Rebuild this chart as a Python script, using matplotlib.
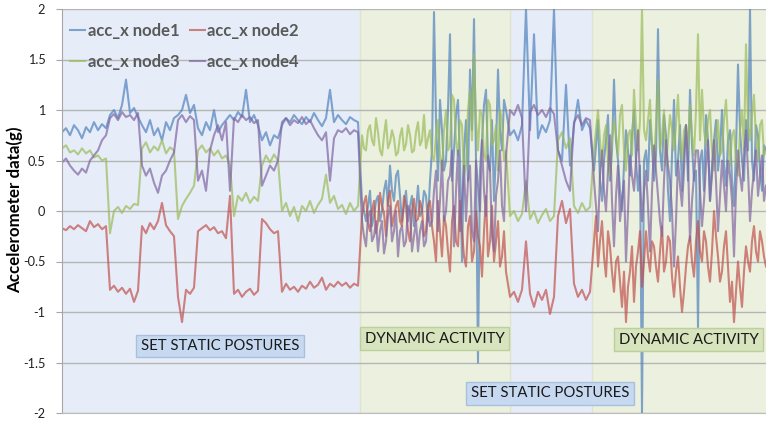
import numpy as np
import matplotlib.pyplot as plt

plt.rcParams['font.family'] = ['Lato', 'DejaVu Sans']

# Readings taken off the trace. Static phases are read every 4 px of the
# original, the dynamic phases every 2 px (they are much busier).
# phases: static postures | dynamic activity | static postures | dynamic activity
node1_static1 = [
    0.78, 0.82, 0.75, 0.85, 0.8, 0.72, 0.83, 0.78, 0.88, 0.8, 0.86, 0.82,
    0.95, 1.0, 0.92, 1.05, 1.3, 0.97, 1.02, 0.93,
    0.85, 0.78, 0.9, 0.75, 0.82, 0.7, 0.88, 0.8, 0.92,
    0.95, 1.0, 1.15, 0.97, 1.05,
    0.82, 0.75, 0.88, 0.8, 1.0, 0.78, 0.85, 0.9,
    0.95,
    0.9, 0.98, 0.93, 1.2, 0.88, 0.95, 0.85,
    0.7, 0.78, 0.65, 0.75, 0.72,
    0.85, 0.92, 0.88, 0.95, 0.9, 0.86, 0.93, 0.88, 0.97, 0.9,
    0.84, 0.92, 1.2, 0.88, 0.95, 0.9, 0.86, 0.93, 0.9, 0.88,
]
node1_dynamic1 = [
    0.1, 0.0, -0.1, 0.05, 0.2, -0.15, -0.05, 0.1, 0.15, -0.1,
    0.0, 0.2, 0.3, 0.05, 0.45, 0.2, 0.1, 0.35, 0.4, 0.15,
    -0.1, 0.05, 0.2, -0.1, 0.05, 0.15, -0.15, 0.0, 0.25, -0.05,
    0.0, 0.2, 0.15, -0.1, 0.3, 0.6, 1.97, 0.9, 0.3, 1.1,
    0.8, 0.4, 0.5, 1.0, 1.75, 0.3, 0.6, 0.95, 1.1, 0.5,
    -0.5, 0.6, 0.9, 0.3, 1.4, 0.8, 1.9, 0.5, -1.5, 0.4,
    0.7, 1.05, 1.2, 0.5, 0.4, 0.9, 0.1, 0.6, 1.4, 0.8,
    0.6, 1.1, 1.0,
]
node1_static2 = [
    0.75, 0.8, 0.7, 0.85, 2.0, 0.8, 1.75, 0.72, 0.85, 0.78, 0.9, 2.0,
    0.6, 0.5, 1.25, 0.45, 0.85, 1.1, 0.8, 0.9, 0.82,
]
node1_dynamic2 = [
    0.4, 0.65, 0.9, 0.3, 0.1, 0.5, 0.7, 0.95, 0.3, 0.6,
    1.3, 0.7, 0.5, 0.2, 0.0, 0.45, 0.8, 0.6, 0.35, 0.75,
    1.0, 0.5, 0.2, 0.45, -2.0, 0.5, 0.6, 0.3, 0.9, 0.65,
    0.3, 0.55, 1.8, 0.6, 0.4, 0.95, 0.75, 0.2, -0.1, 0.55,
    1.1, 0.35, 0.5, 0.85, 0.2, 0.6, 0.85, 0.3, 1.2, 0.65,
    0.3, 0.4, -1.15, 0.5, 0.6, 0.2, 0.95, 0.7, 0.1, 0.45,
    0.7, 0.9, 0.4, 0.6, 1.0, 0.45, 0.25, 0.7, 0.8, 0.3,
    0.05, 0.6, 1.45, 0.8, 0.5, 0.3, 0.9, 0.6, 2.0, 0.5,
    0.3, 0.85, 0.75, 0.4, 0.2, 0.65, 0.6,
]

node2_static1 = [
    -0.17, -0.19, -0.15, -0.18, -0.14, -0.17, -0.2, -0.1, -0.16, -0.13, -0.18, -0.15,
    -0.78, -0.74, -0.8, -0.76, -0.82, -0.77, -0.9, -0.79,
    -0.15, -0.22, -0.12, -0.18, -0.1, 0.08, -0.14, -0.2, -0.25,
    -0.85, -1.1, -0.78, -0.82, -0.76,
    -0.2, -0.17, -0.14, -0.19, -0.16, -0.22, -0.2, -0.27,
    0.15,
    -0.82, -0.78, -0.85, -0.8, -0.77, -0.83, -0.79,
    -0.08, -0.12, -0.18, -0.22, -0.2,
    -0.8, -0.72, -0.78, -0.75, -0.8, -0.74, -0.77, -0.7, -0.76, -0.73,
    -0.66, -0.78, -0.72, -0.75, -0.7, -0.74, -0.71, -0.76, -0.72, -0.74,
]
node2_dynamic1 = [
    -0.05, 0.08, 0.15, -0.12, -0.2, 0.0, 0.1, -0.22, -0.1, 0.18,
    0.05, -0.02, -0.25, 0.12, 0.2, -0.15, -0.05, 0.05, 0.1, -0.1,
    -0.15, 0.15, 0.05, -0.2, -0.3, 0.0, 0.12, -0.1, -0.08, 0.1,
    0.02, -0.25, -0.2, 0.05, 0.1, -0.15, -0.3, -0.5, 0.1, -0.2,
    -0.45, -0.05, -0.15, -0.4, -0.6, -0.1, 0.05, -0.3, -0.35, 0.1,
    -0.2, -0.45, -0.55, -0.15, -0.05, -0.5, -0.4, 0.0, -0.25, -0.35,
    -0.65, -0.2, 0.15, -0.45, -0.3, 0.05, -0.5, -0.3, -0.1, -0.55,
    -0.45, -0.2, -0.6,
]
node2_static2 = [
    -0.85, -0.8, -0.9, -0.78, -0.3, -0.82, -0.95, -0.8, -0.88, -0.78, -1.02, -0.85,
    -0.05, 0.1, -0.12, 0.02, -0.72, -0.85, -0.78, -0.88, -0.8,
]
node2_dynamic2 = [
    -0.3, -0.05, -0.55, -0.3, -0.1, -0.45, -0.65, -0.2, -0.35, -0.6,
    -0.8, -0.5, -0.45, -0.7, -0.95, -0.6, -1.1, -0.75, -0.6, -0.35,
    -0.9, -0.55, -0.4, -0.2, -0.75, -0.5, -0.2, -0.45, -0.6, -0.3,
    -0.35, -0.55, -0.7, -0.4, -0.15, -0.6, -0.5, -0.25, -0.3, -0.65,
    -0.85, -0.6, -0.45, -0.75, -1.0, -0.8, -0.55, -0.35, -0.25, -0.5,
    -0.65, -0.3, -0.1, -0.4, -0.5, -0.2, -0.3, -0.55, -0.7, -0.4,
    0.0, -0.25, -0.45, -0.7, -0.6, -0.35, -0.2, -0.55, -0.9, -0.7,
    -1.1, -0.8, -0.5, -0.75, -0.95, -0.6, -0.35, -0.5, -0.6, -0.3,
    -0.15, -0.4, -0.5, -0.2, -0.3, -0.45, -0.55,
]

node3_static1 = [
    0.62, 0.65, 0.58, 0.6, 0.56, 0.62, 0.57, 0.6, 0.53, 0.55, 0.5, 0.52,
    -0.22, 0.0, 0.04, -0.02, 0.05, 0.02, 0.07, 0.06,
    0.62, 0.68, 0.58, 0.64, 0.6, 0.7, 0.57, 0.63, 0.6,
    -0.08, 0.05, 0.12, 0.18, 0.25,
    0.6, 0.65, 0.58, 0.62, 0.55, 0.6, 0.52, 0.55,
    0.45,
    -0.05, 0.15, 0.1, 0.18, 0.08, 0.14, 0.1,
    0.45, 0.55, 0.48, 0.56, 0.5,
    0.0, 0.08, -0.05, 0.04, -0.1, 0.05, 0.0, 0.1, -0.02, 0.06,
    0.12, 0.36, 0.08, 0.15, 0.02, 0.06, -0.03, 0.08, 0.0, 0.05,
]
node3_dynamic1 = [
    0.75, 0.62, 0.6, 0.8, 0.85, 0.7, 0.65, 0.92, 0.78, 0.6,
    0.55, 0.75, 0.9, 0.62, 0.68, 0.8, 0.72, 0.55, 0.58, 0.74,
    0.82, 0.6, 0.66, 0.85, 0.75, 0.58, 0.6, 0.78, 0.88, 0.65,
    0.7, 0.95, 0.62, 0.72, 0.8, 0.55, 0.5, 0.75, 0.9, 0.55,
    0.4, 0.8, 1.0, 0.6, 0.65, 1.15, 1.1, 0.7, 0.55, 0.9,
    0.85, 0.35, 0.45, 1.0, 1.2, 0.7, 1.55, 0.9, 0.6, 1.0,
    0.95, 0.55, 0.5, 1.1, 1.05, 0.65, 0.7, 0.85, 0.4, 1.0,
    0.9, 0.5, 0.6,
]
node3_static2 = [
    -0.05, 0.0, -0.1, -0.03, 0.3, -0.08, 0.0, -0.12, -0.04, 0.02, -0.1, -0.05,
    0.7, 0.78, 0.62, 0.72, 0.05, -0.02, 0.08, 0.0, 0.04,
]
node3_dynamic2 = [
    0.6, 0.8, 1.0, 0.7, 0.45, 0.75, 0.85, 0.5, 0.35, 0.7,
    0.9, 0.75, 0.55, 0.95, 1.05, 0.6, 0.4, 0.75, 0.8, 0.55,
    1.2, 0.85, 0.6, 0.9, 2.0, 0.8, 0.7, 0.9, 1.1, 0.65,
    0.5, 0.85, 1.3, 0.6, 0.75, 1.0, 0.45, 0.7, 0.95, 0.8,
    0.6, 0.85, 1.15, 0.7, 0.5, 0.8, 0.85, 0.6, 1.05, 0.75,
    0.55, 1.0, 1.75, 0.7, 1.2, 0.8, 0.65, 0.9, 1.0, 0.6,
    0.4, 0.75, 0.9, 0.55, 0.6, 0.9, 1.1, 0.7, 0.45, 0.75,
    0.8, 0.5, 0.35, 0.8, 1.0, 0.6, 1.65, 0.85, 0.7, 0.95,
    1.15, 0.7, 0.5, 0.85, 0.9, 0.55, 0.6,
]

node4_static1 = [
    0.48, 0.52, 0.45, 0.4, 0.36, 0.42, 0.38, 0.5, 0.55, 0.6, 0.7, 0.75,
    0.92, 0.96, 0.9, 0.98, 0.93, 0.95, 0.9, 0.97,
    0.45, 0.35, 0.42, 0.28, 0.18, 0.35, 0.4, 0.5, 0.58,
    0.9, 0.95, 0.88, 0.94, 0.9,
    0.3, 0.4, 0.2, 0.6, 0.75, 0.85, 0.7, 0.88,
    0.2,
    0.92, 0.88, 0.95, 0.9, 0.93, 0.87, 0.9,
    0.25, 0.35, 0.45, 0.4, 0.5,
    0.88, 0.92, 0.85, 0.9, 0.87, 0.93, 0.86, 0.9, 0.82, 0.75,
    0.7, 0.78, 0.3, 0.72, 0.8, 0.78, 0.82, 0.76, 0.8, 0.78,
]
node4_dynamic1 = [
    -0.1, -0.25, -0.35, -0.05, 0.0, -0.3, -0.25, -0.1, -0.4, -0.2,
    -0.1, -0.42, -0.3, -0.05, 0.05, -0.3, -0.2, 0.0, -0.45, -0.2,
    -0.15, -0.35, -0.3, 0.05, 0.0, -0.4, -0.25, -0.1, -0.4, -0.2,
    -0.1, -0.35, -0.3, 0.0, -0.15, -0.1, 0.2, 0.4, -0.2, 0.1,
    0.5, -0.1, 0.0, 0.3, 0.35, 0.6, -0.35, 0.2, 0.6, -0.2,
    0.1, 0.45, -0.1, 0.3, 0.45, -0.2, -0.3, 0.5, 0.25, 0.0,
    0.7, 0.2, -0.05, 0.55, 0.4, -0.25, -0.4, 0.15, 0.3, 0.6,
    0.05, -0.1, 0.55,
]
node4_static2 = [
    1.0, 0.95, 1.05, 0.92, 0.0, 0.98, 1.05, 0.95, 1.0, 0.93, 1.02, 0.96,
    0.6, 0.45, 0.3, 0.2, 0.88, 0.95, 0.85, 0.92, 0.9,
]
node4_dynamic2 = [
    0.3, 0.05, -0.2, 0.35, 0.6, 0.2, 0.0, 0.4, 0.75, 0.1,
    -0.35, 0.15, 0.45, -0.1, 0.1, 0.3, -0.5, 0.0, 0.55, 0.35,
    0.2, 0.5, 0.8, 0.3, -0.1, 0.2, 0.4, 0.05, -0.4, 0.2,
    0.65, 0.4, 0.15, -0.1, -0.25, 0.3, 0.7, 0.45, 0.3, 0.0,
    -0.55, -0.1, 0.5, 0.25, 0.05, 0.4, 0.85, 0.5, -0.3, 0.1,
    0.35, 0.6, 0.6, 0.2, -0.15, 0.1, 0.45, 0.7, 0.1, 0.35,
    0.7, 0.3, -0.2, 0.15, 0.5, 0.25, 0.0, 0.5, 0.35, 0.1,
    -0.45, 0.2, 0.6, 0.35, 0.2, 0.55, 0.8, 0.4, -0.1, 0.2,
    0.4, 0.6, 0.15, 0.35, 0.55, 0.1, 0.25,
]

series_names = ['acc_x node1', 'acc_x node2', 'acc_x node3', 'acc_x node4']
series_colors = ['#4f81bd', '#c0504d', '#9bbb59', '#8064a2']

phase_edges = [0, 74.5, 112, 132.5, 176]
phase_kinds = ['static', 'dynamic', 'static', 'dynamic']
phase_labels = {'static': 'SET STATIC POSTURES', 'dynamic': 'DYNAMIC ACTIVITY'}

yticks = [-2, -1.5, -1, -0.5, 0, 0.5, 1, 1.5, 2]
ytick_labels = ['-2', '-1.5', '-1', '-0.5', '0', '0.5', '1', '1.5', '2']

# sample times: static phases one step per reading, dynamic phases half steps
t = np.concatenate([np.arange(0, 75), np.arange(75, 111.5, 0.5),
                    np.arange(112, 133), np.arange(133, 176.5, 0.5)])

node1 = node1_static1 + node1_dynamic1 + node1_static2 + node1_dynamic2
node2 = node2_static1 + node2_dynamic1 + node2_static2 + node2_dynamic2
node3 = node3_static1 + node3_dynamic1 + node3_static2 + node3_dynamic2
node4 = node4_static1 + node4_dynamic1 + node4_static2 + node4_dynamic2
data = [node1, node2, node3, node4]
for d in data:
    assert len(d) == len(t), (len(d), len(t))

fig = plt.figure(figsize=(7.66, 4.22), dpi=100)
ax = fig.add_axes([62 / 766, 9 / 422, 704 / 766, 404 / 422])

bg = {'static': '#e6edf8', 'dynamic': '#ebf1de'}
box_face = {'static': '#c6d9f1', 'dynamic': '#d7e4bd'}
box_edge = {'static': '#a9c0dc', 'dynamic': '#bccf9c'}

for i, kind in enumerate(phase_kinds):
    ax.axvspan(phase_edges[i], phase_edges[i + 1], color=bg[kind], lw=0, zorder=0)
for e in phase_edges[1:-1]:
    ax.axvline(e, color='#dde6cc', lw=1.0, zorder=0.2)

handles = []
for vals, name, col in zip(data, series_names, series_colors):
    h, = ax.plot(t, vals, color=col, lw=1.5, alpha=0.7, label=name, zorder=2)
    handles.append(h)

ax.set_xlim(0, 176)
ax.set_ylim(-2, 2)
ax.set_yticks(yticks)
ax.set_yticklabels(ytick_labels, fontsize=9.2, color='#222222')
ax.set_xticks([])
ax.set_axisbelow(True)
ax.yaxis.grid(True, color='#b5b5b5', lw=1.0, zorder=0.5)
ax.tick_params(axis='y', length=4, color='#a6a6a6', pad=8)
for s in ['top', 'right']:
    ax.spines[s].set_visible(False)
ax.spines['left'].set_color('#a6a6a6')
ax.spines['bottom'].set_color('#bdbdbd')

fig.text(15 / 766, 1 - 210 / 422, 'Accelerometer data(g)', rotation=90, ha='center',
         va='center', fontsize=12.2, fontweight='bold', color='black')

# phase label boxes (axes fraction positions)
label_pos = [(0.2244, 0.1658), (0.5291, 0.1844), (0.6932, 0.0483), (0.8899, 0.1819)]
for (px, py), kind in zip(label_pos, phase_kinds):
    ax.text(px, py, phase_labels[kind], transform=ax.transAxes, ha='center',
            va='center', fontsize=10.7, color='#1a1a1a', zorder=5,
            bbox=dict(boxstyle='square,pad=0.3', fc=box_face[kind],
                      ec=box_edge[kind], lw=1.0))

order = [0, 2, 1, 3]
leg = ax.legend([handles[i] for i in order], [series_names[i] for i in order],
                ncol=2, loc='upper left', bbox_to_anchor=(0.012, 0.965),
                frameon=False, handlelength=0.9, handletextpad=0.15,
                columnspacing=0.6, labelspacing=0.9, borderpad=0,
                borderaxespad=0, prop={'size': 12, 'weight': 'bold'})
for txt in leg.get_texts():
    txt.set_color('#595959')
leg.set_zorder(6)

fig.savefig('out.png', dpi=100, facecolor='white')
